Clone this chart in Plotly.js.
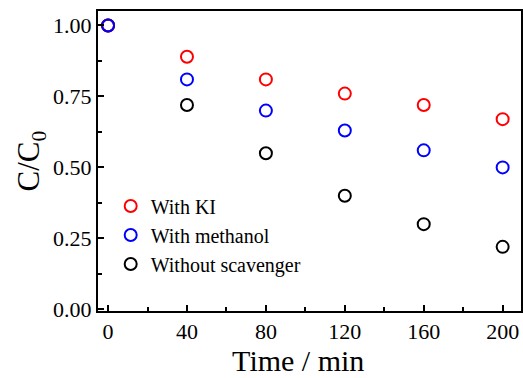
<!DOCTYPE html>
<html><head><meta charset="utf-8">
<script src="https://cdn.plot.ly/plotly-3.0.1.min.js"></script>
<style>body{margin:0;padding:0;background:#fff}#chart{width:523px;height:378px}</style>
</head><body><div id="chart"></div>
<script>
const time = [0, 40, 80, 120, 160, 200];
const withKI = [1.00, 0.89, 0.81, 0.76, 0.72, 0.67];
const withMethanol = [1.00, 0.81, 0.70, 0.63, 0.56, 0.50];
const withoutScavenger = [1.00, 0.72, 0.55, 0.40, 0.30, 0.22];

function tr(name, y, color, rank) {
  return {x: time, y: y, name: name, type: 'scatter', mode: 'markers', legendrank: rank,
    marker: {symbol: 'circle-open', size: 12, color: color, line: {width: 2, color: color}}};
}
const data = [
  tr('Without scavenger', withoutScavenger, '#000000', 3),
  tr('With KI', withKI, '#ff0000', 1),
  tr('With methanol', withMethanol, '#0000ff', 2)
];
const font = '"Liberation Serif", "Times New Roman", serif';
const layout = {
  width: 523, height: 378,
  margin: {l: 98, r: 2, t: 11, b: 67},
  paper_bgcolor: '#fff', plot_bgcolor: '#fff',
  font: {family: font, color: '#000'},
  showlegend: true,
  legend: {x: 0.03, y: 0.415, xanchor: 'left', yanchor: 'top', bgcolor: 'rgba(0,0,0,0)',
    font: {family: font, size: 20, color: '#000'}, tracegroupgap: 0, itemwidth: 30},
  xaxis: {range: [-5.1, 209.3], tickmode: 'linear', tick0: 0, dtick: 40,
    ticks: 'inside', ticklen: 6, tickwidth: 2, tickcolor: '#000',
    minor: {ticks: 'inside', ticklen: 4, tickwidth: 2, tickcolor: '#000', dtick: 20},
    showline: true, linewidth: 2, linecolor: '#000', mirror: true, showgrid: false, zeroline: false,
    tickfont: {family: font, size: 22, color: '#000'},
    title: {text: 'Time / min&nbsp;&nbsp;&nbsp;', font: {family: font, size: 30, color: '#000'}, standoff: 5}},
  yaxis: {range: [-0.006, 1.051], tickmode: 'linear', tick0: 0, dtick: 0.25, tickformat: '.2f',
    ticks: 'inside', ticklen: 6, tickwidth: 2, tickcolor: '#000',
    minor: {ticks: 'inside', ticklen: 4, tickwidth: 2, tickcolor: '#000', dtick: 0.125},
    showline: true, linewidth: 2, linecolor: '#000', mirror: true, showgrid: false, zeroline: false,
    tickfont: {family: font, size: 22, color: '#000'},
    title: {text: 'C/C<sub>0</sub>', font: {family: font, size: 31, color: '#000'}, standoff: 4}}
};
Plotly.newPlot('chart', data, layout, {displayModeBar: false, staticPlot: true});
</script></body></html>
